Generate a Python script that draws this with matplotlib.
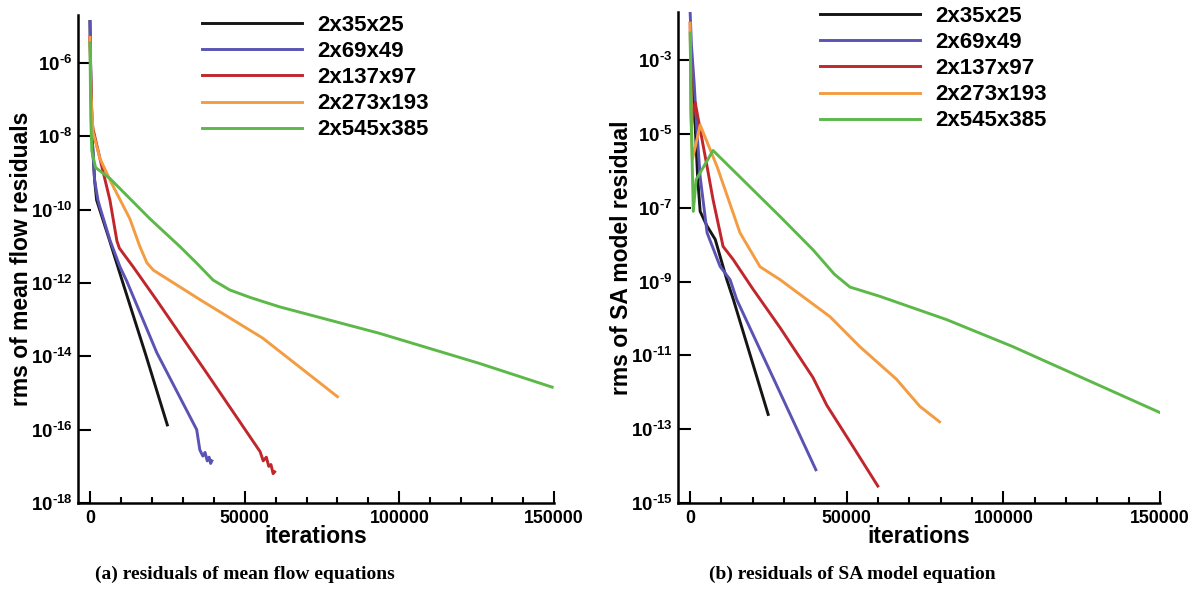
import numpy as np
import matplotlib
matplotlib.use('Agg')
import matplotlib.pyplot as plt
from matplotlib.ticker import MultipleLocator, FixedLocator, NullLocator, FuncFormatter

plt.rcParams['font.family'] = ['Liberation Sans', 'DejaVu Sans']
plt.rcParams['font.weight'] = 'bold'
plt.rcParams['mathtext.fontset'] = 'custom'
plt.rcParams['mathtext.rm'] = 'Liberation Sans:bold'
plt.rcParams['mathtext.bf'] = 'Liberation Sans:bold'
plt.rcParams['mathtext.it'] = 'Liberation Sans:bold'

grids = ['2x35x25', '2x69x49', '2x137x97', '2x273x193', '2x545x385']
colors = ['#151515', '#5a53b4', '#c0262b', '#f39c42', '#5cb949']

# (a) mean flow residuals: iterations, log10(rms)
mf_x = [
    [0, 300, 800, 1500, 2150, 6000, 10650, 18000, 25000],
    [0, 300, 800, 1500, 2580, 3200, 6450, 9700, 11900, 21600, 34500, 35500,
     36500, 37200, 37900, 38500, 39000, 39400],
    [0, 300, 650, 1000, 3200, 6450, 8700, 9500, 13970, 21500, 37700, 55000,
     56000, 57000, 57800, 58500, 59200, 59700],
    [0, 300, 1000, 3200, 6450, 12900, 16100, 18400, 20500, 35500, 55800, 80000],
    [0, 250, 600, 1800, 6450, 19400, 29000, 34400, 39800, 45200, 52000, 61300,
     93500, 125800, 149400],
]
mf_log = [
    [-4.87, -6.6, -8.2, -9.2, -9.74, -10.75, -12.0, -13.95, -15.87],
    [-4.87, -6.6, -8.2, -9.2, -9.74, -9.93, -10.83, -11.56, -11.95, -13.9, -16.0,
     -16.55, -16.72, -16.62, -16.85, -16.75, -16.92, -16.85],
    [-5.3, -6.6, -7.6, -7.8, -8.6, -9.74, -10.85, -11.05, -11.56, -12.46, -14.45,
     -16.6, -16.85, -16.75, -17.0, -16.95, -17.2, -17.15],
    [-5.3, -6.8, -7.9, -8.6, -9.19, -10.25, -11.0, -11.45, -11.65, -12.45,
     -13.5, -15.1],
    [-5.45, -7.5, -8.4, -8.85, -9.15, -10.25, -11.0, -11.45, -11.92, -12.19,
     -12.4, -12.65, -13.37, -14.19, -14.84],
]

# (b) SA model residual: iterations, log10(rms)
sa_x = [
    [0, 640, 1500, 2400, 3185, 5400, 8000, 11700, 13800, 24900],
    [0, 400, 1270, 2200, 3185, 5400, 9550, 12740, 14870, 27000, 40130],
    [0, 400, 1000, 1600, 5400, 7300, 10500, 13700, 20000, 28700, 39200, 43600,
     51900, 59900],
    [0, 300, 700, 3185, 8600, 15900, 22300, 28700, 44600, 54100, 65900, 73300,
     79600],
    [0, 300, 1000, 1900, 7300, 28700, 39200, 46000, 51000, 60500, 81800, 102900,
     124200, 149700],
]
sa_log = [
    [-3.0, -3.05, -4.6, -6.2, -7.1, -7.5, -7.86, -8.95, -9.49, -12.6],
    [-1.73, -2.6, -3.63, -4.97, -6.16, -7.68, -8.59, -8.95, -9.49, -11.7, -14.1],
    [-2.0, -4.8, -4.4, -4.15, -5.89, -6.78, -8.05, -8.4, -9.2, -10.25, -11.6,
     -12.35, -13.46, -14.54],
    [-2.0, -4.5, -5.7, -4.76, -5.89, -7.68, -8.6, -8.95, -9.95, -10.76, -11.65,
     -12.38, -12.8],
    [-2.27, -4.5, -7.1, -6.24, -5.45, -7.24, -8.14, -8.8, -9.15, -9.4, -10.03,
     -10.76, -11.57, -12.54],
]

mf_yticks = np.arange(-18, -5, 2)
sa_yticks = np.arange(-15, -2, 2)


def sci(v, pos):
    # short hyphen in the exponent, as in the original figure
    return r'$\mathbf{10^{\text{-}%d}}$' % abs(int(round(np.log10(v))))


def draw(ax, xs, logs, yticks, ylim, ylabel, leg_anchor, ylab_x):
    for x, ly, c, g in zip(xs, logs, colors, grids):
        ax.plot(x, 10.0 ** np.array(ly), color=c, lw=2.1, label=g)
    ax.set_yscale('log')
    ax.set_xlim(-3870, 150000)
    ax.set_ylim(*ylim)
    ax.yaxis.set_major_locator(FixedLocator(10.0 ** yticks))
    ax.yaxis.set_minor_locator(NullLocator())
    ax.yaxis.set_major_formatter(FuncFormatter(sci))
    ax.xaxis.set_major_locator(MultipleLocator(50000))
    ax.xaxis.set_minor_locator(MultipleLocator(10000))
    for s in ['top', 'right']:
        ax.spines[s].set_visible(False)
    for s in ['left', 'bottom']:
        ax.spines[s].set_linewidth(1.8)
    ax.tick_params(which='both', direction='in', width=1.5)
    ax.tick_params(which='major', length=9)
    ax.tick_params(which='minor', length=4.5)
    ax.tick_params(axis='y', pad=4, labelsize=13.5)
    ax.tick_params(axis='x', pad=5, labelsize=12.8)
    ax.set_xlabel('iterations', fontsize=16.5, fontweight='bold')
    ax.set_ylabel(ylabel, fontsize=16.5, fontweight='bold')
    ax.xaxis.set_label_coords(0.5, -0.045)
    ax.yaxis.set_label_coords(ylab_x, 0.5)
    ax.legend(loc='upper left', bbox_to_anchor=leg_anchor, bbox_transform=fig.transFigure,
              frameon=False, fontsize=16, handlelength=4.5, handletextpad=0.7,
              labelspacing=0.23, borderpad=0, borderaxespad=0)


fig = plt.figure(figsize=(12.02, 5.92), dpi=100)
ax1 = fig.add_axes([0.0649, 0.1503, 0.396, 0.8244])
ax2 = fig.add_axes([0.5641, 0.1503, 0.401, 0.8294])

draw(ax1, mf_x, mf_log, mf_yticks, (1e-18, 10 ** -4.69),
     'rms of mean flow residuals', (202 / 1202, 1 - 15 / 592), -0.094)
draw(ax2, sa_x, sa_log, sa_yticks, (1e-15, 10 ** -1.70),
     'rms of SA model residual', (820 / 1202, 1 - 6 / 592), -0.093)

fig.text(0.204, 0.029, '(a) residuals of mean flow equations', ha='center', va='center',
         family=['Liberation Serif', 'DejaVu Serif'], fontweight='bold', fontsize=14)
fig.text(0.709, 0.029, '(b) residuals of SA model equation', ha='center', va='center',
         family=['Liberation Serif', 'DejaVu Serif'], fontweight='bold', fontsize=14)

fig.savefig('out.png', dpi=100)
